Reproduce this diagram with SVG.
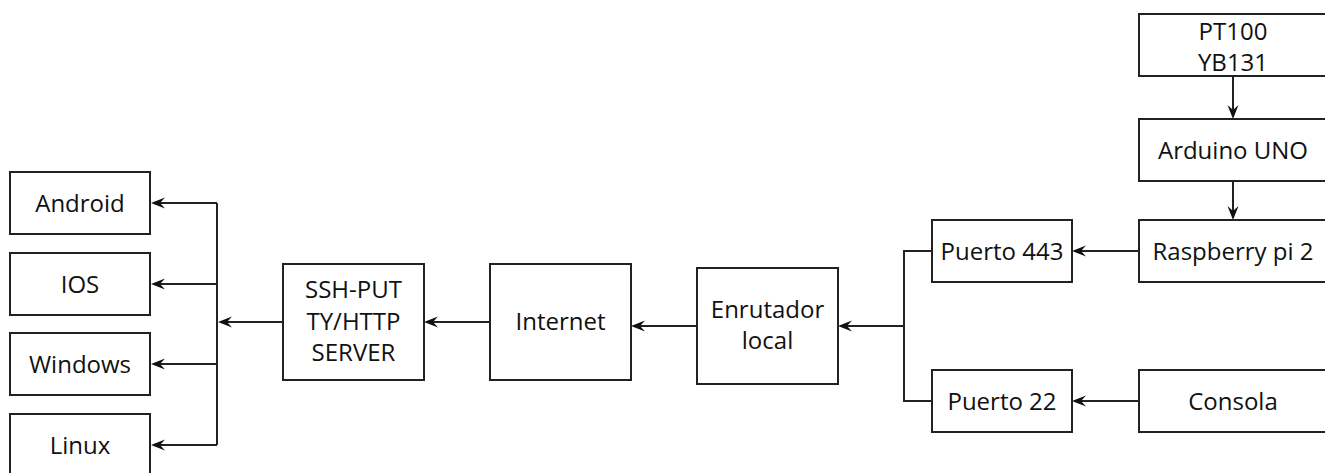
<svg xmlns="http://www.w3.org/2000/svg" width="1325" height="473" viewBox="0 0 1325 473">
<defs>
<style>
.box{fill:#fff;stroke:#222;stroke-width:2}
.t{font-family:"Open Sans","Noto Sans","Liberation Sans",sans-serif;font-size:24px;fill:#111;text-anchor:middle}
.c{fill:none;stroke:#222;stroke-width:2}
.a{marker-end:url(#arr)}
</style>
<marker id="arr" markerUnits="userSpaceOnUse" viewBox="-14 -6 16 12" markerWidth="16" markerHeight="12" refX="-4" refY="0" orient="auto">
<path d="M0,0 L-14,-5.5 L-9,0 L-14,5.5 Z" fill="#111"/>
</marker>
</defs>
<rect width="1325" height="473" fill="#fff"/>
<g id="connectors">
<path class="c" d="M217,203 V445"/>
<path class="c a" d="M217,203 H155"/>
<path class="c a" d="M217,284 H155"/>
<path class="c a" d="M217,364 H155"/>
<path class="c a" d="M217,445 H155"/>
<path class="c a" d="M283,322 H222"/>
<path class="c a" d="M490,322 H428"/>
<path class="c a" d="M697,326 H635"/>
<path class="c" d="M932,251 H904 V401 H932"/>
<path class="c a" d="M904,326 H842"/>
<path class="c a" d="M1139,251 H1076"/>
<path class="c a" d="M1139,401 H1076"/>
<path class="c a" d="M1233,76 V115"/>
<path class="c a" d="M1233,181 V216"/>
</g>
<g id="android"><rect class="box" x="10" y="172" width="140" height="62"/><text class="t" x="80" y="211.5">Android</text></g>
<g id="ios"><rect class="box" x="10" y="253" width="140" height="62"/><text class="t" x="80" y="292.5">IOS</text></g>
<g id="windows"><rect class="box" x="10" y="333" width="140" height="62"/><text class="t" x="80" y="372.5">Windows</text></g>
<g id="linux"><rect class="box" x="10" y="414" width="140" height="62"/><text class="t" x="80" y="453.5">Linux</text></g>
<g id="ssh"><rect class="box" x="283" y="264" width="141" height="116"/><text class="t" x="353.5" y="298">SSH-PUT</text><text class="t" x="353.5" y="330">TY/HTTP</text><text class="t" x="353.5" y="361">SERVER</text></g>
<g id="internet"><rect class="box" x="490" y="264" width="141" height="116"/><text class="t" x="560.5" y="330">Internet</text></g>
<g id="enrutador"><rect class="box" x="697" y="268" width="141" height="116"/><text class="t" x="767.5" y="318">Enrutador</text><text class="t" x="767.5" y="349">local</text></g>
<g id="puerto443"><rect class="box" x="932" y="220" width="140" height="62"/><text class="t" x="1002" y="259.5">Puerto 443</text></g>
<g id="puerto22"><rect class="box" x="932" y="370" width="140" height="62"/><text class="t" x="1002" y="409.5">Puerto 22</text></g>
<g id="pt100"><rect class="box" x="1139" y="14" width="190" height="62"/><text class="t" x="1233" y="40">PT100</text><text class="t" x="1233" y="71">YB131</text></g>
<g id="arduino"><rect class="box" x="1139" y="119" width="190" height="62"/><text class="t" x="1233" y="158.5">Arduino UNO</text></g>
<g id="raspberry"><rect class="box" x="1139" y="220" width="190" height="62"/><text class="t" x="1233" y="259.5">Raspberry pi 2</text></g>
<g id="consola"><rect class="box" x="1139" y="370" width="190" height="62"/><text class="t" x="1233" y="409.5">Consola</text></g>
</svg>
